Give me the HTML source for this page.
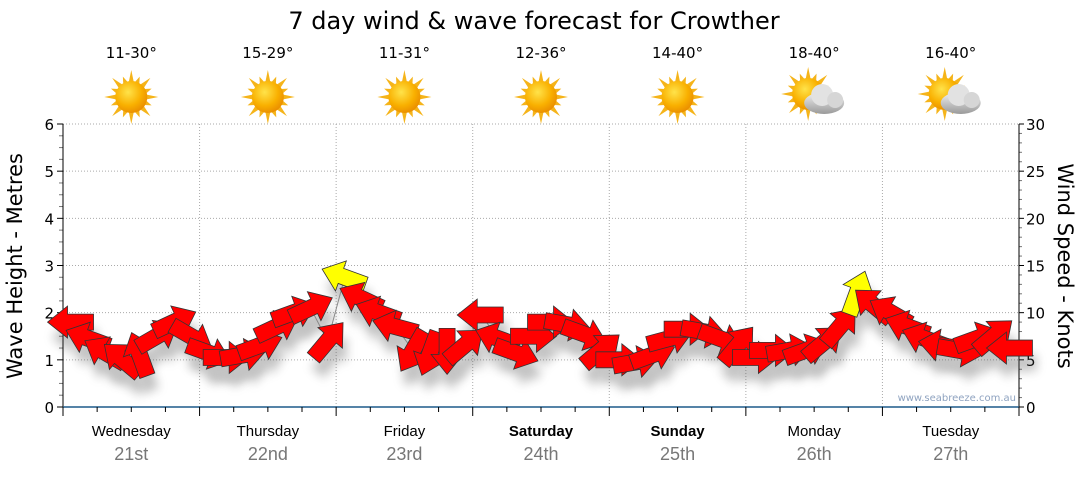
<!DOCTYPE html>
<html><head><meta charset="utf-8">
<style>
body{margin:0;background:#fff;width:1080px;height:475px;overflow:hidden;font-family:"Liberation Sans","DejaVu Sans",sans-serif}
svg text{font-family:"DejaVu Sans","Liberation Sans",sans-serif}
svg text.lab{font-family:"Liberation Sans","DejaVu Sans",sans-serif}
</style></head>
<body>
<svg id="chart" width="1080" height="475" viewBox="0 0 1080 475" xmlns="http://www.w3.org/2000/svg">
<defs>
<radialGradient id="sunG" cx="0.4" cy="0.35" r="0.7">
<stop offset="0" stop-color="#ffe34a"/><stop offset="0.6" stop-color="#f9b000"/><stop offset="1" stop-color="#e88a00"/></radialGradient>
<linearGradient id="cloudG" x1="0" y1="0" x2="0" y2="1"><stop offset="0" stop-color="#f2f2f2"/><stop offset="1" stop-color="#9a9a9a"/></linearGradient>
<filter id="shadow" x="-50%" y="-50%" width="200%" height="200%"><feGaussianBlur stdDeviation="5"/></filter>
</defs>
<text x="534" y="29" font-size="24" text-anchor="middle" fill="#000">7 day wind &amp; wave forecast for Crowther</text>
<g id="topG"></g>
<g id="grid"></g>
<g id="axes"></g>
<g id="shadows" opacity="0.35"></g>
<g id="marks"></g>
<text x="1016" y="401" font-size="10" text-anchor="end" fill="#8fa3c0">www.seabreeze.com.au</text>
<text transform="translate(22,266) rotate(-90)" font-size="21" text-anchor="middle">Wave Height - Metres</text>
<text transform="translate(1058,266) rotate(90)" font-size="21" text-anchor="middle">Wind Speed - Knots</text>
</svg>
<script>
const days = ["Wednesday","Thursday","Friday","Saturday","Sunday","Monday","Tuesday"];
const dates = ["21st","22nd","23rd","24th","25th","26th","27th"];
const boldDays = [false,false,false,true,true,false,false];
const temps = ["11-30°","15-29°","11-31°","12-36°","14-40°","18-40°","16-40°"];
const cloudy = [false,false,false,false,false,true,true];
const leftTicks = [0,1,2,3,4,5,6];
const rightTicks = [0,5,10,15,20,25,30];
// every 3 hours, 8 per day
const waveHeight = [1.8,1.45,1.15,1.0,1.1,1.5,1.8,1.5,
 1.15,1.05,1.1,1.3,1.7,2.0,2.1,1.4,
 2.75,2.3,2.0,1.7,1.2,1.15,1.2,1.3,
 1.95,1.45,1.15,1.5,1.8,1.75,1.55,1.2,
 1.0,0.95,1.1,1.45,1.65,1.6,1.45,1.3,
 1.05,1.2,1.2,1.2,1.35,1.7,2.4,2.15,
 2.0,1.7,1.45,1.3,1.2,1.45,1.5,1.25];
const windDir = [180,200,210,220,250,-30,-25,30,
 20,0,-10,-20,-25,-20,-25,-50,
 200,205,200,195,120,110,90,-40,
 180,200,20,0,0,10,20,-40,
 0,-10,-20,-15,0,10,20,-50,
 0,0,-10,-20,-40,-50,-70,220,
 210,200,200,190,10,-20,-40,180];
const windSpeed = [11,10,9,9,9,10,11,10,
 9,9,10,10,11,12,12,13,
 7,11,12,12,11,11,10,9,
 10,9,9,10,11,11,10,9,
 9,9,10,10,10,10,9,9,
 9,9,9,9,10,11,7,12,
 11,10,10,9,9,9,9,8];

const NS='http://www.w3.org/2000/svg';
const X0=63,X1=1019,Y0=407,Y1=124;
const dayW=(X1-X0)/7;
const xOfStep=i=>X0+(i+0.5)*dayW/8;
const yOfH=h=>Y0-(h/6)*(Y0-Y1);
const yOfK=k=>Y0-(k/30)*(Y0-Y1);
function mk(tag,attrs,parent){const e=document.createElementNS(NS,tag);for(const k in attrs)e.setAttribute(k,attrs[k]);parent.appendChild(e);return e;}
const topG=document.getElementById('topG'),grid=document.getElementById('grid'),axes=document.getElementById('axes');

days.forEach((d,i)=>{
 const cx=X0+(i+0.5)*dayW;
 const t=mk('text',{x:cx,y:58,'font-size':15,'text-anchor':'middle'},topG);t.textContent=temps[i];
 
 
 const g=mk('g',{},topG);
 
 
 const sx=cloudy[i]?cx-6:cx, sy=cloudy[i]?94:97;
 for(let a=0;a<16;a++){const ang=a*Math.PI/8;const r2=a%2?22:27;
  const p=[[sx+Math.cos(ang)*r2,sy+Math.sin(ang)*r2],[sx+Math.cos(ang+0.17)*15,sy+Math.sin(ang+0.17)*15],[sx+Math.cos(ang-0.17)*15,sy+Math.sin(ang-0.17)*15]];
  mk('polygon',{points:p.map(q=>q.join(',')).join(' '),fill:'#f5b41a'},g);}
 mk('circle',{cx:sx,cy:sy,r:16,fill:'url(#sunG)'},g);
 if(cloudy[i]){
  mk('ellipse',{cx:cx+10,cy:103,rx:20,ry:11,fill:'url(#cloudG)'},g);
  mk('circle',{cx:cx+8,cy:95,r:11,fill:'#e2e2e2'},g);
  mk('circle',{cx:cx+21,cy:100,r:8,fill:'#d6d6d6'},g);
 }
 const dl=mk('text',{x:cx,y:436,'font-size':15,'text-anchor':'middle','font-weight':boldDays[i]?'bold':'normal','class':'lab'},axes);dl.textContent=d;
 
 
 const dt=mk('text',{x:cx,y:460,'font-size':18,'text-anchor':'middle',fill:'#777','class':'lab'},axes);dt.textContent=dates[i];
 
 
 if(i>0){const gl=mk('line',{x1:X0+i*dayW,x2:X0+i*dayW,y1:Y1,y2:Y0,stroke:'#aaa','stroke-dasharray':'1,2'},grid);
  
  }
});
leftTicks.forEach(v=>{
 const y=yOfH(v);
 if(v>0){const gl=mk('line',{x1:X0,x2:X1,y1:y,y2:y,stroke:'#aaa','stroke-dasharray':'1,2'},grid);
  
  }
 mk('line',{x1:X0-6,x2:X0,y1:y,y2:y,stroke:'#000'},axes);
 const t=mk('text',{x:X0-9,y:y+6,'font-size':15,'text-anchor':'end'},axes);t.textContent=v;
 
 
});
for(let k=0;k<24;k++){const y=yOfH(k/4);if(k%4)mk('line',{x1:X0-4,x2:X0,y1:y,y2:y,stroke:'#777'},axes);}
rightTicks.forEach(v=>{
 const y=yOfK(v);
 mk('line',{x1:X1,x2:X1+5,y1:y,y2:y,stroke:'#000'},axes);
 const t=mk('text',{x:X1+7,y:y+6,'font-size':15},axes);t.textContent=v;
 
 
});
for(let k=0;k<30;k++){const y=yOfK(k);if(k%5)mk('line',{x1:X1,x2:X1+3,y1:y,y2:y,stroke:'#777'},axes);}
mk('line',{x1:X0,x2:X0,y1:Y1,y2:Y0,stroke:'#000'},axes);
mk('line',{x1:X1,x2:X1,y1:Y1,y2:Y0,stroke:'#000'},axes);
mk('line',{x1:X0,x2:X1,y1:Y0,y2:Y0,stroke:'#1d5a8a','stroke-width':1.5},axes);
for(let k=0;k<=28;k++){const x=X0+k*dayW/4;mk('line',{x1:x,x2:x,y1:Y0,y2:Y0+(k%4?5:9),stroke:'#000'},axes);}

const sh=document.getElementById('shadows'),mg=document.getElementById('marks');
const pts=waveHeight.map((h,i)=>xOfStep(i)+','+yOfH(h)).join(' ');
const pl=mk('polyline',{points:pts,fill:'none',stroke:'#888','stroke-width':1},mg);


const arrowPts='-22,-8 4,-8 4,-16 24,0 4,16 4,8 -22,8';
waveHeight.forEach((h,i)=>{
 const x=xOfStep(i),y=yOfH(h);
 mk('polygon',{points:arrowPts,fill:'#555',filter:'url(#shadow)',transform:`translate(${x+4},${y+15}) rotate(${windDir[i]})`},sh);
 const a=mk('polygon',{points:arrowPts,fill:windSpeed[i]<8?'#ffff00':'#ff0000',stroke:'#333','stroke-width':0.8,transform:`translate(${x},${y}) rotate(${windDir[i]})`},mg);
 
 
});
</script>
</body></html>
